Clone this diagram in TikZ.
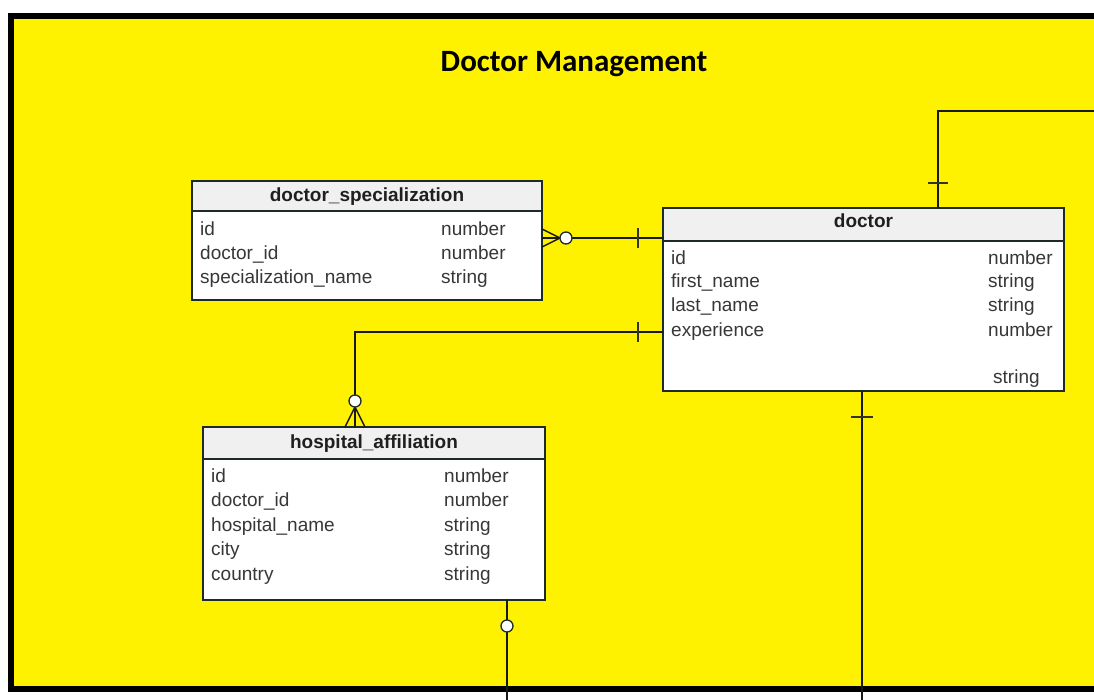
\documentclass[tikz,border=0pt]{standalone}
\usepackage{fontspec}
\setmainfont{Liberation Sans}
\newfontfamily\headingfont{Carlito}
\usetikzlibrary{calc}
\definecolor{frameyellow}{RGB}{255,242,0}
\definecolor{hdrgray}{RGB}{240,240,240}
\definecolor{edgeink}{RGB}{30,42,42}
\definecolor{txtgray}{RGB}{55,55,55}
\begin{document}
\begin{tikzpicture}[x=1pt,y=-1pt,
  tbl/.style={fill=white, anchor=north west, inner sep=0pt, outer sep=0pt},
  border/.style={draw=edgeink, line width=1.4pt},
  hdr/.style={fill=hdrgray},
  fld/.style={anchor=base west, inner sep=0pt, text=txtgray, font=\fontsize{19}{22}\selectfont},
  ttl/.style={anchor=base, inner sep=0pt, text=black!88, font=\fontsize{19}{22}\selectfont\bfseries},
  rel/.style={line width=1.4pt, draw=black!90},
  tick/.style={line width=1.4pt, draw=black!80},
  opt/.style={circle, draw=edgeink, fill=white, line width=1.3pt, minimum size=12pt, inner sep=0pt}
]
\useasboundingbox (0,0) rectangle (1094,700);
\clip (0,0) rectangle (1094,700);

% page background and framed area
\fill[white] (0,0) rectangle (1094,700);
\node[draw=black, line width=6pt, fill=frameyellow, anchor=north west, minimum width=1120pt, minimum height=673pt, inner sep=0pt] (frame) at (8,13) {};
\node[anchor=base, inner sep=0pt, font=\headingfont\fontsize{31}{36}\selectfont\bfseries] (title) at (574,72) {Doctor Management};

% ---- doctor_specialization ----
\node[tbl, minimum width=350pt, minimum height=119pt] (spec) at (192,181) {};
\fill[hdr] (spec.north west) rectangle ($(spec.north east)+(0,30)$);
\draw[border] ($(spec.north west)+(0,30)$) -- ($(spec.north east)+(0,30)$);
\draw[border] (spec.north west) rectangle (spec.south east);
\node[ttl] (specT) at ($(spec.north)+(0,21)$) {doctor\_specialization};
\node[fld] (s1) at (200,236) {id};
\node[fld] (s2) at (200,260) {doctor\_id};
\node[fld] (s3) at (200,284) {specialization\_name};
\node[fld] (s1t) at (441,236) {number};
\node[fld] (s2t) at (441,260) {number};
\node[fld] (s3t) at (441,284) {string};

% ---- doctor ----
\node[tbl, minimum width=401pt, minimum height=183pt] (doc) at (663,208) {};
\fill[hdr] (doc.north west) rectangle ($(doc.north east)+(0,33)$);
\draw[border] ($(doc.north west)+(0,33)$) -- ($(doc.north east)+(0,33)$);
\draw[border] (doc.north west) rectangle (doc.south east);
\node[ttl] (docT) at ($(doc.north)+(0,20)$) {doctor};
\node[fld] (d1) at (671,265) {id};
\node[fld] (d2) at (671,288) {first\_name};
\node[fld] (d3) at (671,312) {last\_name};
\node[fld] (d4) at (671,337) {experience};
\node[fld] (d1t) at (988,265) {number};
\node[fld] (d2t) at (988,288) {string};
\node[fld] (d3t) at (988,312) {string};
\node[fld] (d4t) at (988,337) {number};
\node[fld] (d5t) at (993,383) {string};

% ---- hospital_affiliation ----
\node[tbl, minimum width=342pt, minimum height=173pt] (hosp) at (203,427) {};
\fill[hdr] (hosp.north west) rectangle ($(hosp.north east)+(0,32)$);
\draw[border] ($(hosp.north west)+(0,32)$) -- ($(hosp.north east)+(0,32)$);
\draw[border] (hosp.north west) rectangle (hosp.south east);
\node[ttl] (hospT) at ($(hosp.north)+(0,21)$) {hospital\_affiliation};
\node[fld] (h1) at (211,482) {id};
\node[fld] (h2) at (211,506) {doctor\_id};
\node[fld] (h3) at (211,531) {hospital\_name};
\node[fld] (h4) at (211,555) {city};
\node[fld] (h5) at (211,580) {country};
\node[fld] (h1t) at (444,482) {number};
\node[fld] (h2t) at (444,506) {number};
\node[fld] (h3t) at (444,531) {string};
\node[fld] (h4t) at (444,555) {string};
\node[fld] (h5t) at (444,580) {string};

% ---- relationship: doctor_specialization >o----|- doctor ----
\coordinate (se) at ($(spec.north east)+(0,57)$);
\draw[rel] (se) -- (doc.west |- se);
\draw[rel] ($(se)+(0,-9)$) -- ($(se)+(18,0)$) -- ($(se)+(0,9)$);
\draw[tick] ($(doc.west |- se)+(-25,-10)$) -- ($(doc.west |- se)+(-25,10)$);
\node[opt] (so) at ($(se)+(24,0)$) {};

% ---- relationship: doctor -|---o< hospital_affiliation ----
\coordinate (he) at ($(doc.north west)+(0,124)$);
\coordinate (hk) at ($(hosp.north west)+(152,0)$);
\draw[rel] (he) -| (hk);
\draw[tick] ($(he)+(-25,-10)$) -- ($(he)+(-25,10)$);
\draw[rel] ($(hk)+(-10,0)$) -- ($(hk)+(0,-20)$) -- ($(hk)+(10,0)$);
\node[opt] (ho) at ($(hk)+(0,-26)$) {};

% ---- relationship: doctor top, leaving to the right ----
\coordinate (dt) at ($(doc.north west)+(275,0)$);
\coordinate (dtr) at (1094,111);
\draw[rel] (dt) |- (dtr);
\draw[tick] ($(dt)+(-10,-25)$) -- ($(dt)+(10,-25)$);

% ---- relationship: doctor bottom, leaving downwards ----
\coordinate (db) at ($(doc.south west)+(199,0)$);
\coordinate (dbe) at (db |- 0,700);
\draw[rel] (db) -- (dbe);
\draw[tick] ($(db)+(-11,26)$) -- ($(db)+(11,26)$);

% ---- relationship: hospital_affiliation bottom, leaving downwards ----
\coordinate (hb) at ($(hosp.south west)+(304,0)$);
\coordinate (hbe) at (hb |- 0,700);
\draw[rel] (hb) -- (hbe);
\node[opt] (hbo) at ($(hb)+(0,26)$) {};
\end{tikzpicture}
\end{document}
